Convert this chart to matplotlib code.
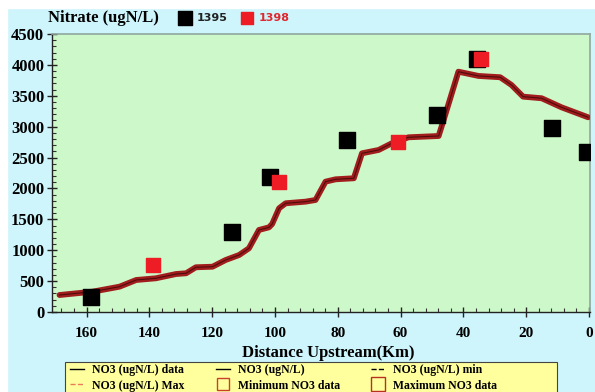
import matplotlib
matplotlib.use("Agg")
import matplotlib.pyplot as plt
from matplotlib.lines import Line2D
from matplotlib.patches import Rectangle
from matplotlib.ticker import MultipleLocator

# simulated NO3 profile along the river
model_km = [168.6, 158.1, 149.5, 144.2, 137.9, 131.5, 128.3, 125.2, 119.9, 115.7,
            111.4, 108.3, 105.1, 101.9, 100.9, 98.7, 96.6, 90.3, 87.1, 83.9,
            80.7, 74.9, 72.3, 67.0, 62.8, 57.5, 47.9, 46.3, 41.6, 35.2,
            28.3, 24.7, 21.0, 15.1, 8.8, 0.3]
model_no3 = [275, 329, 410, 518, 546, 615, 627, 724, 733, 842,
             923, 1031, 1328, 1371, 1425, 1679, 1760, 1786, 1813, 2110,
             2148, 2165, 2569, 2623, 2731, 2828, 2849, 3108, 3890, 3821,
             3800, 3675, 3486, 3460, 3314, 3152]

# observed samples
km_1395 = [158.7, 113.6, 101.5, 77.0, 48.4, 35.8, 11.8, 0.6]
no3_1395 = [250, 1290, 2190, 2785, 3190, 4096, 2975, 2588]
km_1398 = [138.8, 98.7, 60.8, 34.4]
no3_1398 = [758, 2102, 2755, 4088]

y_ticks = [0, 500, 1000, 1500, 2000, 2500, 3000, 3500, 4000, 4500]
x_ticks = [160, 140, 120, 100, 80, 60, 40, 20, 0]

SERIF = "Liberation Serif"
SKY = "#cdf5fb"
GRASS = "#cdf8c9"

fig = plt.figure(figsize=(5.95, 3.92), dpi=100, facecolor=SKY)
fig.patches.append(Rectangle((0, 1 - 8 / 392), 1, 8 / 392, transform=fig.transFigure,
                             color="white", zorder=0))
fig.patches.append(Rectangle((0, 0), 7 / 595, 1, transform=fig.transFigure,
                             color="white", zorder=0))

ax = fig.add_axes([52 / 595, 1 - 312 / 392, 538 / 595, 278 / 392])
ax.set_facecolor(GRASS)

ax.plot(model_km, model_no3, color="#a11c1c", lw=4.2, solid_capstyle="round",
        solid_joinstyle="round", zorder=3)
ax.plot(model_km, model_no3, color="#2a0505", lw=0.8, alpha=0.7, zorder=4)
sc_black = ax.scatter(km_1395, no3_1395, marker="s", s=125, color="black", zorder=5)
sc_red = ax.scatter(km_1398, no3_1398, marker="s", s=110, color="#ee1c24", zorder=6)

ax.set_xlim(171, -0.3)
ax.set_ylim(0, 4500)
ax.set_xticks(x_ticks)
ax.set_yticks(y_ticks)
ax.xaxis.set_minor_locator(MultipleLocator(4))
ax.yaxis.set_minor_locator(MultipleLocator(100))
ax.tick_params(axis="both", which="major", direction="inout", length=7, width=1,
               color="#222222")
ax.tick_params(axis="both", which="minor", direction="in", length=3, width=0.8,
               color="#333333")
ax.tick_params(axis="x", pad=7)
ax.tick_params(axis="y", pad=2)
for lab in ax.get_xticklabels():
    lab.set_fontfamily(SERIF)
    lab.set_fontweight("bold")
    lab.set_fontsize(11)
for lab in ax.get_yticklabels():
    lab.set_fontfamily(SERIF)
    lab.set_fontweight("bold")
    lab.set_fontsize(12)

for side in ("top", "right"):
    ax.spines[side].set_color("#8fa8a0")
    ax.spines[side].set_linewidth(1.2)
for side in ("left", "bottom"):
    ax.spines[side].set_color("#222222")
    ax.spines[side].set_linewidth(1.0)

ax.set_xlabel("Distance Upstream(Km)", fontfamily=SERIF, fontweight="bold",
              fontsize=12)
ax.xaxis.set_label_coords(0.513, -0.118)

fig.text(48 / 595, 1 - 18 / 392, "Nitrate (ugN/L)", fontfamily=SERIF,
         fontweight="bold", fontsize=12, va="center", ha="left")

top_leg = fig.legend([sc_black, sc_red], ["1395", "1398"], ncol=2, frameon=False,
                     loc="center left", bbox_to_anchor=(174 / 595, 1 - 18 / 392),
                     handletextpad=0.5, columnspacing=1.3, handlelength=1.0,
                     markerscale=0.85, borderpad=0,
                     prop={"family": "DejaVu Sans", "weight": "bold", "size": 8})
top_leg.get_texts()[0].set_color("#222222")
top_leg.get_texts()[1].set_color("#e0262e")

# yellow key box at the bottom, runs off the lower edge
fig.patches.append(Rectangle((65 / 595, -0.05), 492 / 595, 0.05 + 30 / 392,
                             transform=fig.transFigure, facecolor="#ffff9e",
                             edgecolor="#444444", linewidth=0.8, zorder=1))

# bottom legend, filled column by column
handles = [
    Line2D([], [], color="black", lw=1),
    Line2D([], [], color="#e87c5a", lw=1, ls="--"),
    Line2D([], [], color="black", lw=1),
    Line2D([], [], ls="none", marker="s", markersize=8, markerfacecolor="none",
           markeredgecolor="#c8412a", markeredgewidth=1),
    Line2D([], [], color="black", lw=1, ls="--"),
    Line2D([], [], ls="none", marker="s", markersize=10, markerfacecolor="none",
           markeredgecolor="#b8301f", markeredgewidth=1),
]
labels = [
    "NO3 (ugN/L) data",
    "NO3 (ugN/L) Max",
    "NO3 (ugN/L)",
    "Minimum NO3 data",
    "NO3 (ugN/L) min",
    "Maximum NO3 data",
]
bottom_leg = fig.legend(handles, labels, ncol=3, loc="upper left",
                        bbox_to_anchor=(70 / 595, 1 - 364 / 392), frameon=False,
                        handlelength=1.2, handletextpad=0.7, columnspacing=2.6,
                        borderpad=0, labelspacing=0.3, borderaxespad=0,
                        prop={"family": SERIF, "weight": "bold", "size": 8.5})

fig.savefig("out.png", dpi=100, facecolor=fig.get_facecolor())
